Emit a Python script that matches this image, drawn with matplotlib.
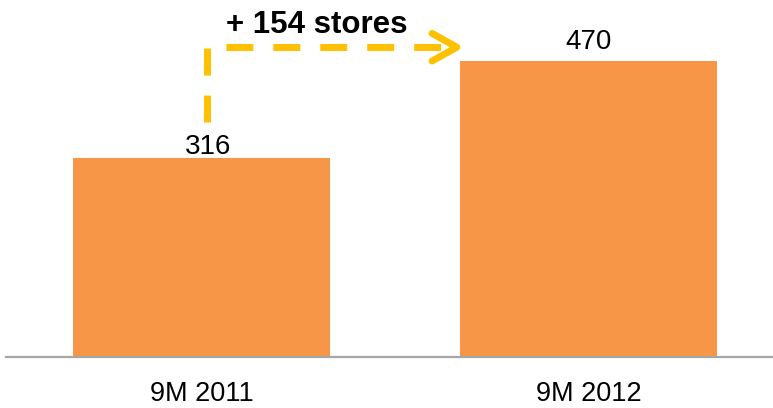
import matplotlib
matplotlib.use("Agg")
import matplotlib.pyplot as plt

categories = ["9M 2011", "9M 2012"]
stores = [316, 470]
change_label = "+ 154 stores"

plt.rcParams['font.family'] = ['Liberation Sans', 'DejaVu Sans']
plt.rcParams['lines.scale_dashes'] = False

W, H, DPI = 773, 408, 100
fig = plt.figure(figsize=(W / DPI, H / DPI), dpi=DPI)
ax = fig.add_axes([6 / W, 51 / H, 767 / W, 357 / H])

x = list(range(len(categories)))
bars = ax.bar(x, stores, width=0.664, color='#F79646', zorder=2)

ax.set_xlim(-0.505, 1.477)
ax.set_ylim(0, 567)

for s in ['top', 'right', 'left']:
    ax.spines[s].set_visible(False)
ax.spines['bottom'].set_color('#A6A6A6')
ax.spines['bottom'].set_linewidth(1.6)
ax.spines['bottom'].set_zorder(3)
ax.set_yticks([])
ax.set_xticks(x)
ax.set_xticklabels(categories, fontsize=19.5)
ax.tick_params(axis='x', length=0, pad=17.5)

label_dx = [7, 0]
label_dy = [4, 12]
for xi, v, dx, dy in zip(x, stores, label_dx, label_dy):
    ax.annotate(str(v), (xi, v), xytext=(dx * 0.72, dy * 0.72),
                textcoords='offset points', ha='center', va='baseline',
                fontsize=20)

# dashed elbow arrow from first bar to second bar
gold = '#FFC000'
ax.plot([0.014, 0.014, 0.652], [373, 492, 492], color=gold, lw=5,
        linestyle=(0, (19.4, 14.4)), dash_capstyle='butt', zorder=4)
ax.plot([0.596, 0.66, 0.596], [514, 492, 470], color=gold, lw=5,
        solid_capstyle='round', solid_joinstyle='round', zorder=4)

ax.text(0.298, 514, change_label, ha='center', va='baseline',
        fontsize=22.5, fontweight='bold', zorder=5)

fig.savefig('out.png', dpi=DPI)
